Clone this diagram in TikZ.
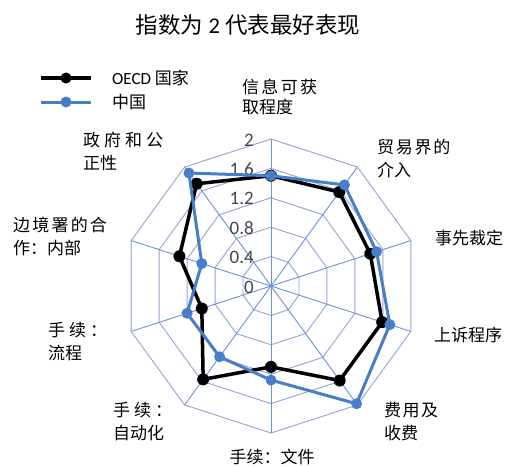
\documentclass[tikz,border=0pt]{standalone}
\usepackage{fontspec}
\setmainfont{Carlito}
\newfontfamily\cjk{Noto Sans CJK SC}
\definecolor{ringc}{RGB}{150,160,210}
\definecolor{spokec}{RGB}{105,145,215}
\definecolor{cnblue}{RGB}{72,125,200}
\definecolor{tickc}{RGB}{70,70,70}
\begin{document}
\begin{tikzpicture}[x=1pt,y=-1pt,
  lbl/.style={font=\cjk\fontsize{17}{20}\selectfont, inner sep=0pt, text height=15pt, text depth=2pt, anchor=west},
  ticklbl/.style={font=\fontsize{19}{21}\selectfont, text=tickc, inner sep=0pt, anchor=base east},
  ringline/.style={draw=ringc, line width=0.9pt},
  spokeline/.style={draw=spokec, line width=0.9pt},
  oecdline/.style={draw=black, line width=3.5pt, line join=round},
  cnline/.style={draw=cnblue, line width=3pt, line join=round},
]
\useasboundingbox (0,0) rectangle (505,466);

% title
\node[font=\fontsize{22.5}{24}\selectfont, inner sep=0pt, text height=19.8pt, text depth=2.7pt] (title) at (248,25) {{\cjk 指数为} 2 {\cjk 代表最好表现}};

% legend
\coordinate (lka) at (41,78);
\coordinate (lkb) at (91,78);
\coordinate (lkm) at (66,78);
\coordinate (lba) at (41,102);
\coordinate (lbb) at (91,102);
\coordinate (lbm) at (66,102);
\draw[oecdline] (lka) -- (lkb);
\fill[black] (lkm) circle (5.5);
\draw[cnline] (lba) -- (lbb);
\fill[cnblue] (lbm) circle (5.5);
\node[lbl] (lt1) at (112,78) {{\fontspec{Carlito}OECD} 国家};
\node[lbl] (lt2) at (112,102) {中国};

% radar grid
\begin{scope}[shift={(271,286)}, yscale=-1]
  \coordinate (c) at (0,0);
  \foreach \k in {1,...,5} {
    \draw[ringline] (90:{29.4*\k}) \foreach \j in {1,...,9} { -- ({90-36*\j}:{29.4*\k}) } -- cycle;
  }
  \foreach \j in {0,...,9} {
    \coordinate (s\j) at ({90-36*\j}:147);
    \draw[spokeline] (c) -- (s\j);
  }
  \foreach \i/\v in {0/1.5,1/1.58,2/1.42,3/1.59,4/1.59,5/1.1,6/1.57,7/0.99,8/1.31,9/1.72} {
    \coordinate (o\i) at ({90-36*\i}:{\v*73.5});
  }
  \foreach \i/\v in {0/1.5,1/1.70,2/1.51,3/1.70,4/1.98,5/1.28,6/1.19,7/1.2,8/0.99,9/1.90} {
    \coordinate (n\i) at ({90-36*\i}:{\v*73.5});
  }
\end{scope}

% tick labels
\node[ticklbl] (t0) at (254,293) {0};
\node[ticklbl] (t1) at (254,263.6) {0.4};
\node[ticklbl] (t2) at (254,234.2) {0.8};
\node[ticklbl] (t3) at (254,204.8) {1.2};
\node[ticklbl] (t4) at (254,175.4) {1.6};
\node[ticklbl] (t5) at (254,146) {2};

% series
\draw[oecdline] (o0) -- (o1) -- (o2) -- (o3) -- (o4) -- (o5) -- (o6) -- (o7) -- (o8) -- (o9) -- cycle;
\foreach \i in {0,...,9} { \fill[black] (o\i) circle (6); }
\draw[cnline] (n0) -- (n1) -- (n2) -- (n3) -- (n4) -- (n5) -- (n6) -- (n7) -- (n8) -- (n9) -- cycle;
\foreach \i in {0,...,9} { \fill[cnblue] (n\i) circle (5.5); }

% axis labels
\node[lbl] (a0a) at (242,87) {信\hspace{2.3pt}息\hspace{2.3pt}可\hspace{2.3pt}获};
\node[lbl] (a0b) at (242,107) {取程度};
\node[lbl] (a1a) at (377,147) {贸\hspace{1.7pt}易\hspace{1.7pt}界\hspace{1.7pt}的};
\node[lbl] (a1b) at (377,170) {介入};
\node[lbl] (a2) at (435,238) {事先裁定};
\node[lbl] (a3) at (434,335) {上诉程序};
\node[lbl] (a4a) at (384,410) {费\hspace{1.5pt}用\hspace{1.5pt}及};
\node[lbl] (a4b) at (384,433) {收费};
\node[lbl, anchor=center] (a5) at (272,456.5) {手续：文件};
\node[lbl] (a6a) at (113,410) {手\hspace{4pt}续\hspace{4pt}：};
\node[lbl] (a6b) at (113,433) {自动化};
\node[lbl] (a7a) at (48,330) {手\hspace{4pt}续\hspace{4pt}：};
\node[lbl] (a7b) at (48,353) {流程};
\node[lbl] (a8a) at (13,225) {边\hspace{2.2pt}境\hspace{2.2pt}署\hspace{2.2pt}的\hspace{2.2pt}合};
\node[lbl] (a8b) at (13,248) {作：内部};
\node[lbl] (a9a) at (83,140) {政\hspace{4pt}府\hspace{4pt}和\hspace{4pt}公};
\node[lbl] (a9b) at (83,163) {正性};
\end{tikzpicture}
\end{document}
